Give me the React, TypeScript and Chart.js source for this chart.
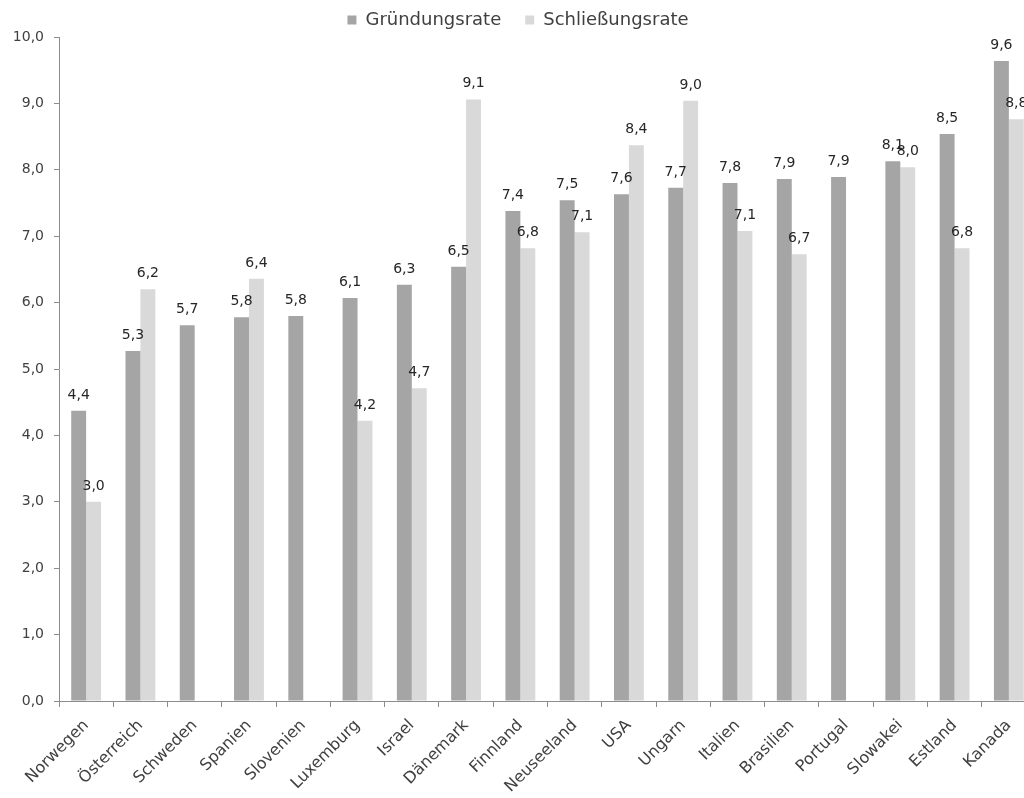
import React, { useEffect, useRef } from "react";
import { Chart, registerables } from "chart.js";

Chart.register(...registerables);

const categories = [
  "Norwegen", "Österreich", "Schweden", "Spanien", "Slovenien", "Luxemburg",
  "Israel", "Dänemark", "Finnland", "Neuseeland", "USA", "Ungarn",
  "Italien", "Brasilien", "Portugal", "Slowakei", "Estland", "Kanada",
];

const gruendungsrate = [
  4.37, 5.27, 5.66, 5.78, 5.8, 6.07, 6.27, 6.54, 7.38, 7.54, 7.63, 7.73,
  7.8, 7.86, 7.89, 8.13, 8.54, 9.64,
];

const schliessungsrate: (number | null)[] = [
  3.0, 6.2, null, 6.36, null, 4.22, 4.71, 9.06, 6.82, 7.06, 8.37, 9.04,
  7.08, 6.73, null, 8.04, 6.82, 8.76,
];

const seriesNames = ["Gründungsrate", "Schließungsrate"];

const FONT = "'DejaVu Sans', sans-serif";
const fmt = (v: number) => v.toFixed(1).replace(".", ",");

const dataLabels = {
  id: "dataLabels",
  afterDatasetsDraw(chart: any) {
    const ctx = chart.ctx;
    ctx.save();
    ctx.font = `14px ${FONT}`;
    ctx.fillStyle = "#262626";
    ctx.textAlign = "center";
    ctx.textBaseline = "alphabetic";
    chart.data.datasets.forEach((ds: any, di: number) => {
      const meta = chart.getDatasetMeta(di);
      meta.data.forEach((el: any, i: number) => {
        const v = ds.data[i];
        if (v === null || v === undefined) return;
        ctx.fillText(fmt(v), el.x, el.y - 12);
      });
    });
    ctx.restore();
  },
};

const legendFix = {
  id: "legendFix",
  beforeLayout(chart: any) {
    const lg = chart.legend;
    if (lg && !lg._patched) {
      const orig = lg.fit.bind(lg);
      lg.fit = function () {
        orig();
        this.height = 50;
      };
      lg._patched = true;
    }
  },
};

export default function App() {
  const ref = useRef<HTMLCanvasElement | null>(null);

  useEffect(() => {
    if (!ref.current) return;
    const chart = new Chart(ref.current, {
      type: "bar",
      data: {
        labels: categories,
        datasets: [
          {
            label: seriesNames[0],
            data: gruendungsrate,
            backgroundColor: "#a5a5a5",
            borderWidth: 0,
            categoryPercentage: 0.55,
            barPercentage: 1.0,
          },
          {
            label: seriesNames[1],
            data: schliessungsrate,
            backgroundColor: "#d9d9d9",
            borderWidth: 0,
            categoryPercentage: 0.55,
            barPercentage: 1.0,
          },
        ],
      },
      options: {
        animation: false,
        responsive: true,
        maintainAspectRatio: false,
        layout: { padding: { top: -13, right: 4, bottom: 0, left: 0 } },
        plugins: {
          legend: {
            position: "top",
            labels: {
              boxWidth: 9,
              boxHeight: 9,
              padding: 24,
              color: "#404040",
              font: { family: FONT, size: 18 },
            },
          },
          tooltip: { enabled: false },
        },
        scales: {
          x: {
            grid: {
              drawOnChartArea: false,
              drawTicks: true,
              tickLength: 6,
              color: "#8c8c8c",
              offset: true,
            },
            border: { display: true, color: "#8c8c8c" },
            ticks: {
              maxRotation: 45,
              minRotation: 45,
              autoSkip: false,
              padding: 9,
              color: "#404040",
              font: { family: FONT, size: 16 },
            },
            afterFit(scale: any) {
              scale.height = 97;
            },
          },
          y: {
            min: 0,
            max: 10,
            grid: {
              drawOnChartArea: false,
              drawTicks: true,
              tickLength: 5,
              color: "#8c8c8c",
            },
            border: { display: true, color: "#8c8c8c" },
            ticks: {
              stepSize: 1,
              padding: 10,
              color: "#404040",
              font: { family: FONT, size: 14 },
              callback: (v: any) => fmt(Number(v)),
            },
            afterFit(scale: any) {
              scale.width = 59;
            },
          },
        },
      },
      plugins: [dataLabels, legendFix],
    });
    return () => chart.destroy();
  }, []);

  return (
    <div
      style={{
        position: "fixed",
        left: 0,
        top: 0,
        width: 1024,
        height: 798,
        overflow: "hidden",
        background: "#fff",
      }}
    >
      <div style={{ position: "relative", width: 1040, height: 798 }}>
        <canvas ref={ref} />
      </div>
    </div>
  );
}
